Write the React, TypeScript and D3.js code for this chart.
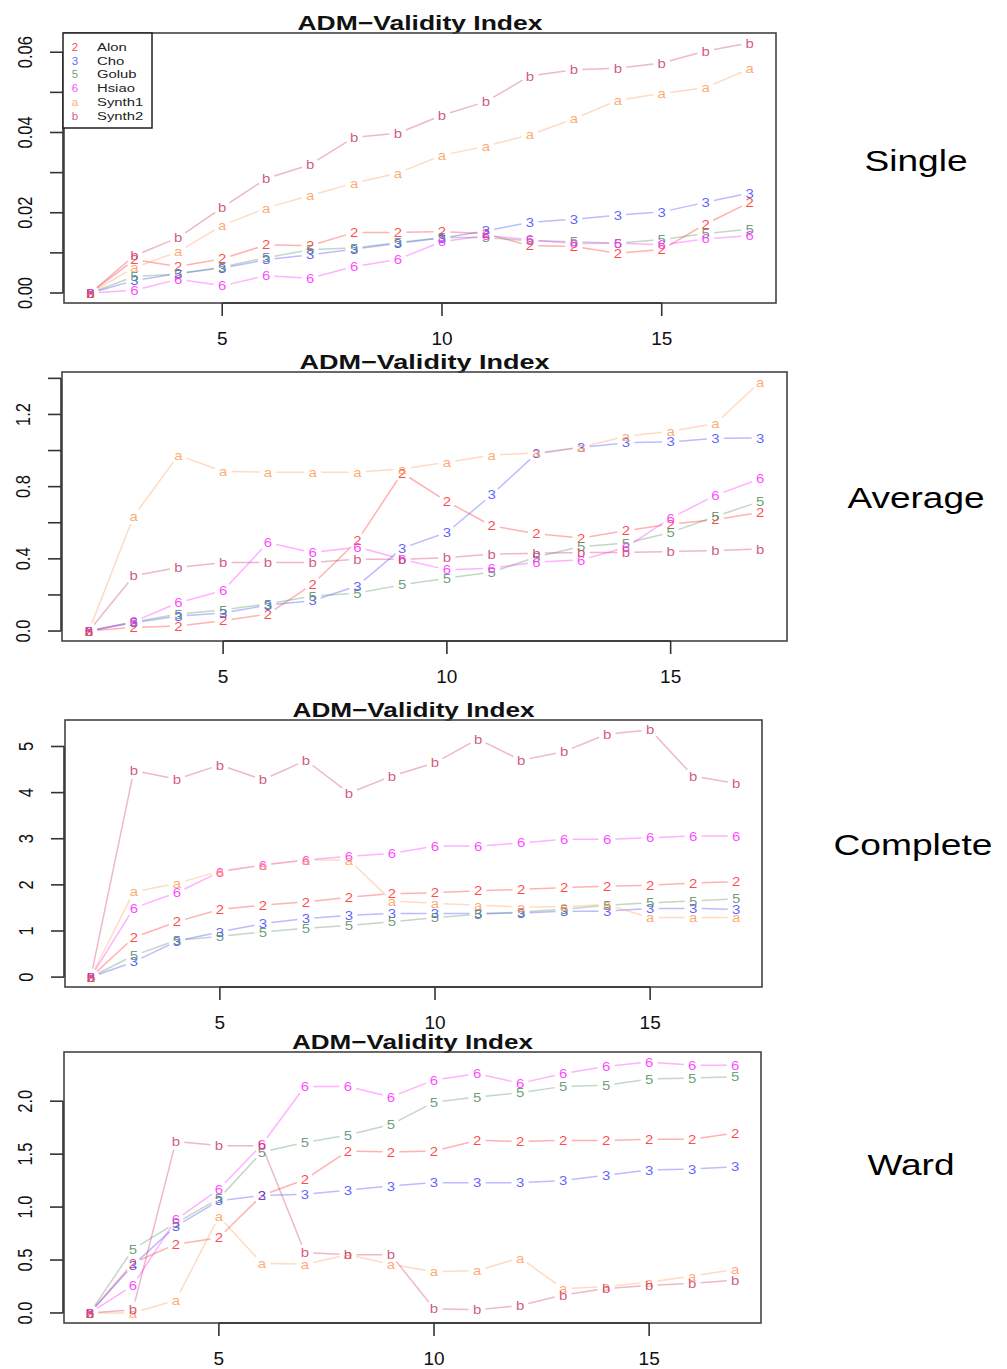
import * as d3 from "d3";

const FONT = "'Liberation Sans', Arial, Helvetica, sans-serif";

// number of clusters (x axis)
const K = [2, 3, 4, 5, 6, 7, 8, 9, 10, 11, 12, 13, 14, 15, 16, 17];
const SERIES = ["Alon", "Cho", "Golub", "Hsiao", "Synth1", "Synth2"];
const PCH = ["2", "3", "5", "6", "a", "b"];
const COLORS = ["#ff2a2a", "#4646ff", "#558f65", "#ff2aff", "#ff9a5a", "#c93a6c"];
const X_TICKS = [5, 10, 15];

// Single linkage
const singleAlon = [0, 0.0083, 0.0066, 0.0085, 0.012, 0.0118, 0.0151, 0.0151, 0.0153, 0.0148, 0.0118, 0.0116, 0.0099, 0.0108, 0.0172, 0.0226];
const singleCho = [0, 0.0031, 0.0049, 0.0062, 0.0083, 0.0095, 0.0109, 0.0124, 0.0137, 0.0155, 0.0176, 0.0184, 0.0194, 0.0202, 0.0226, 0.0249];
const singleGolub = [0, 0.0041, 0.0047, 0.0065, 0.0088, 0.0108, 0.0112, 0.0126, 0.0138, 0.0138, 0.013, 0.0128, 0.0124, 0.0133, 0.0148, 0.0159];
const singleHsiao = [0, 0.0007, 0.0034, 0.0018, 0.0043, 0.0037, 0.0066, 0.0084, 0.0128, 0.0143, 0.0133, 0.0123, 0.0124, 0.012, 0.0135, 0.0143];
const singleSynth1 = [0, 0.0063, 0.0103, 0.0168, 0.0212, 0.0243, 0.0274, 0.0299, 0.0343, 0.0366, 0.0394, 0.0434, 0.048, 0.0497, 0.0512, 0.0559];
const singleSynth2 = [0, 0.0093, 0.0138, 0.0213, 0.0285, 0.032, 0.0388, 0.0398, 0.0443, 0.0477, 0.0541, 0.0556, 0.056, 0.0573, 0.0603, 0.0623];
const singleTicks = [0, 0.01, 0.02, 0.03, 0.04, 0.05, 0.06];
const singleTickLabels = ["0.00", "", "0.02", "", "0.04", "", "0.06"];

// Average linkage
const avgAlon = [0, 0.02, 0.028, 0.057, 0.094, 0.26, 0.5, 0.876, 0.718, 0.583, 0.539, 0.515, 0.556, 0.593, 0.617, 0.657];
const avgCho = [0, 0.046, 0.083, 0.1, 0.144, 0.168, 0.25, 0.459, 0.546, 0.755, 0.983, 1.018, 1.043, 1.048, 1.067, 1.07];
const avgGolub = [0, 0.05, 0.094, 0.117, 0.15, 0.194, 0.21, 0.256, 0.293, 0.326, 0.41, 0.468, 0.487, 0.546, 0.635, 0.718];
const avgHsiao = [0, 0.052, 0.157, 0.224, 0.49, 0.435, 0.465, 0.398, 0.339, 0.348, 0.382, 0.394, 0.463, 0.626, 0.752, 0.843];
const avgSynth1 = [0, 0.635, 0.974, 0.885, 0.88, 0.88, 0.88, 0.898, 0.935, 0.974, 0.987, 1.018, 1.08, 1.107, 1.15, 1.38];
const avgSynth2 = [0, 0.306, 0.352, 0.38, 0.38, 0.38, 0.398, 0.398, 0.407, 0.426, 0.431, 0.435, 0.435, 0.441, 0.446, 0.454];
const avgTicks = [0, 0.2, 0.4, 0.6, 0.8, 1.0, 1.2, 1.4];
const avgTickLabels = ["0.0", "", "0.4", "", "0.8", "", "1.2", ""];

// Complete linkage
const compAlon = [0, 0.86, 1.2, 1.47, 1.56, 1.63, 1.73, 1.81, 1.83, 1.87, 1.9, 1.94, 1.97, 1.99, 2.04, 2.07];
const compCho = [0, 0.33, 0.78, 0.98, 1.16, 1.27, 1.34, 1.38, 1.38, 1.38, 1.39, 1.43, 1.43, 1.49, 1.49, 1.47];
const compGolub = [0, 0.47, 0.8, 0.88, 0.98, 1.06, 1.12, 1.2, 1.29, 1.36, 1.41, 1.47, 1.56, 1.61, 1.65, 1.7];
const compHsiao = [0, 1.5, 1.83, 2.28, 2.43, 2.54, 2.62, 2.68, 2.84, 2.84, 2.91, 2.99, 2.99, 3.02, 3.06, 3.06];
const compSynth1 = [0, 1.85, 2.03, 2.3, 2.43, 2.54, 2.54, 1.65, 1.6, 1.56, 1.52, 1.53, 1.57, 1.29, 1.29, 1.29];
const compSynth2 = [0, 4.48, 4.29, 4.6, 4.28, 4.7, 3.99, 4.36, 4.65, 5.16, 4.7, 4.89, 5.27, 5.36, 4.36, 4.2];
const compTicks = [0, 1, 2, 3, 4, 5];
const compTickLabels = ["0", "1", "2", "3", "4", "5"];

// Ward linkage
const wardAlon = [0, 0.47, 0.65, 0.71, 1.11, 1.26, 1.53, 1.52, 1.53, 1.63, 1.62, 1.63, 1.63, 1.64, 1.64, 1.7];
const wardCho = [0, 0.45, 0.82, 1.06, 1.11, 1.12, 1.16, 1.2, 1.23, 1.23, 1.23, 1.25, 1.3, 1.35, 1.36, 1.38];
const wardGolub = [0, 0.6, 0.85, 1.08, 1.52, 1.61, 1.68, 1.78, 1.99, 2.04, 2.08, 2.14, 2.15, 2.21, 2.22, 2.23];
const wardHsiao = [0, 0.26, 0.88, 1.17, 1.59, 2.14, 2.14, 2.04, 2.2, 2.26, 2.17, 2.26, 2.33, 2.37, 2.34, 2.34];
const wardSynth1 = [0, 0, 0.12, 0.91, 0.47, 0.46, 0.55, 0.46, 0.39, 0.4, 0.52, 0.23, 0.25, 0.29, 0.35, 0.41];
const wardSynth2 = [0, 0.03, 1.62, 1.58, 1.58, 0.57, 0.55, 0.55, 0.04, 0.03, 0.07, 0.17, 0.23, 0.26, 0.28, 0.31];
const wardTicks = [0, 0.5, 1.0, 1.5, 2.0];
const wardTickLabels = ["0.0", "0.5", "1.0", "1.5", "2.0"];

const PANELS = [
  {
    name: "Single", nameLen: 103, nx: 916, ny: 171,
    box: { l: 64, r: 776, t: 33, b: 303 }, titleW: 245,
    data: [singleAlon, singleCho, singleGolub, singleHsiao, singleSynth1, singleSynth2],
    ticks: singleTicks, labels: singleTickLabels, legend: true,
  },
  {
    name: "Average", nameLen: 137, nx: 916, ny: 508,
    box: { l: 62, r: 787, t: 372, b: 641 }, titleW: 250,
    data: [avgAlon, avgCho, avgGolub, avgHsiao, avgSynth1, avgSynth2],
    ticks: avgTicks, labels: avgTickLabels, legend: false,
  },
  {
    name: "Complete", nameLen: 159, nx: 913, ny: 855,
    box: { l: 65, r: 762, t: 720, b: 987 }, titleW: 242,
    data: [compAlon, compCho, compGolub, compHsiao, compSynth1, compSynth2],
    ticks: compTicks, labels: compTickLabels, legend: false,
  },
  {
    name: "Ward", nameLen: 87, nx: 911, ny: 1175,
    box: { l: 64, r: 761, t: 1052, b: 1323 }, titleW: 241,
    data: [wardAlon, wardCho, wardGolub, wardHsiao, wardSynth1, wardSynth2],
    ticks: wardTicks, labels: wardTickLabels, legend: false,
  },
];

const GAP = 8.5; // R type="b" gap around the symbols

function Panel({ p }: { p: (typeof PANELS)[0] }) {
  const { box } = p;
  const xExt = d3.extent(K) as [number, number];
  const xPad = (xExt[1] - xExt[0]) * 0.04;
  const x = d3.scaleLinear().domain([xExt[0] - xPad, xExt[1] + xPad]).range([box.l, box.r]);
  const yMax = d3.max(p.data.flat()) as number;
  const yMin = d3.min(p.data.flat()) as number;
  const yPad = (yMax - yMin) * 0.04;
  const y = d3.scaleLinear().domain([yMin - yPad, yMax + yPad]).range([box.b, box.t]);

  const segs = (vals: number[]) => {
    const out: string[] = [];
    for (let i = 0; i < vals.length - 1; i++) {
      const x1 = x(K[i]), y1 = y(vals[i]), x2 = x(K[i + 1]), y2 = y(vals[i + 1]);
      const len = Math.hypot(x2 - x1, y2 - y1);
      if (len <= 2 * GAP) continue;
      const ux = (x2 - x1) / len, uy = (y2 - y1) / len;
      out.push(`M${x1 + ux * GAP},${y1 + uy * GAP}L${x2 - ux * GAP},${y2 - uy * GAP}`);
    }
    return out.join("");
  };

  const cx = (box.l + box.r) / 2;
  const tMin = p.ticks[0], tMax = p.ticks[p.ticks.length - 1];

  return (
    <g>
      {/* title */}
      <text x={cx} y={box.t - 3} textAnchor="middle" fontFamily={FONT} fontWeight="bold"
        fontSize={21} textLength={p.titleW} lengthAdjust="spacingAndGlyphs" fill="#111">
        ADM−Validity Index
      </text>

      {/* series lines */}
      {p.data.map((vals, si) => (
        <path key={"l" + si} d={segs(vals)} fill="none" stroke={COLORS[si]}
          strokeOpacity={0.36} strokeWidth={1.5} />
      ))}
      {/* series symbols */}
      {p.data.map((vals, si) => (
        <g key={"s" + si}>
          {vals.map((v, i) => (
            <text key={i} transform={`translate(${x(K[i])},${y(v) + 4.6}) scale(1.15,1)`}
              textAnchor="middle" fontFamily={FONT}
              fontSize={13} fill={COLORS[si]} fillOpacity={0.85}>
              {PCH[si]}
            </text>
          ))}
        </g>
      ))}

      {/* box */}
      <rect x={box.l} y={box.t} width={box.r - box.l} height={box.b - box.t}
        fill="none" stroke="#444" strokeWidth={1.6} />

      {/* x axis */}
      <line x1={x(X_TICKS[0])} x2={x(X_TICKS[X_TICKS.length - 1])} y1={box.b} y2={box.b}
        stroke="#333" strokeWidth={1.6} />
      {X_TICKS.map((t) => (
        <g key={"xt" + t}>
          <line x1={x(t)} x2={x(t)} y1={box.b} y2={box.b + 13} stroke="#333" strokeWidth={1.6} />
          <text x={x(t)} y={box.b + 42} textAnchor="middle" fontFamily={FONT} fontSize={19} fill="#111">
            {t}
          </text>
        </g>
      ))}

      {/* y axis */}
      <line x1={box.l - 1} x2={box.l - 1} y1={y(tMin)} y2={y(tMax)} stroke="#333" strokeWidth={1.6} />
      {p.ticks.map((t, i) => (
        <g key={"yt" + i}>
          <line x1={box.l - 14} x2={box.l - 1} y1={y(t)} y2={y(t)} stroke="#333" strokeWidth={1.6} />
          {p.labels[i] && (
            <text transform={`translate(${box.l - 32},${y(t)}) scale(1.2,1) rotate(-90)`}
              textAnchor="middle" fontFamily={FONT} fontSize={16.5} fill="#111">
              {p.labels[i]}
            </text>
          )}
        </g>
      ))}

      {/* legend */}
      {p.legend && (
        <g>
          <rect x={63} y={33} width={89} height={95} fill="white" stroke="#222" strokeWidth={1.5} />
          {SERIES.map((s, i) => (
            <g key={s} transform={`translate(0,${47 + i * 13.7})`}>
              <text x={75} y={4} textAnchor="middle" fontFamily={FONT} fontSize={11.5}
                fill={COLORS[i]} fillOpacity={0.85}>
                {PCH[i]}
              </text>
              <text transform="translate(97,4) scale(1.35,1)" fontFamily={FONT} fontSize={11} fill="#222">
                {s}
              </text>
            </g>
          ))}
        </g>
      )}

      {/* method label */}
      <text x={p.nx} y={p.ny} textAnchor="middle" fontFamily={FONT} fontSize={30}
        textLength={p.nameLen} lengthAdjust="spacingAndGlyphs" fill="#000">
        {p.name}
      </text>
    </g>
  );
}

export default function App() {
  return (
    <div style={{ position: "absolute", left: 0, top: 0, width: 1007, height: 1369, background: "#fff" }}>
      <svg width={1007} height={1369} style={{ display: "block" }}>
        <rect width={1007} height={1369} fill="#fff" />
        {PANELS.map((p) => (
          <Panel key={p.name} p={p} />
        ))}
      </svg>
    </div>
  );
}
